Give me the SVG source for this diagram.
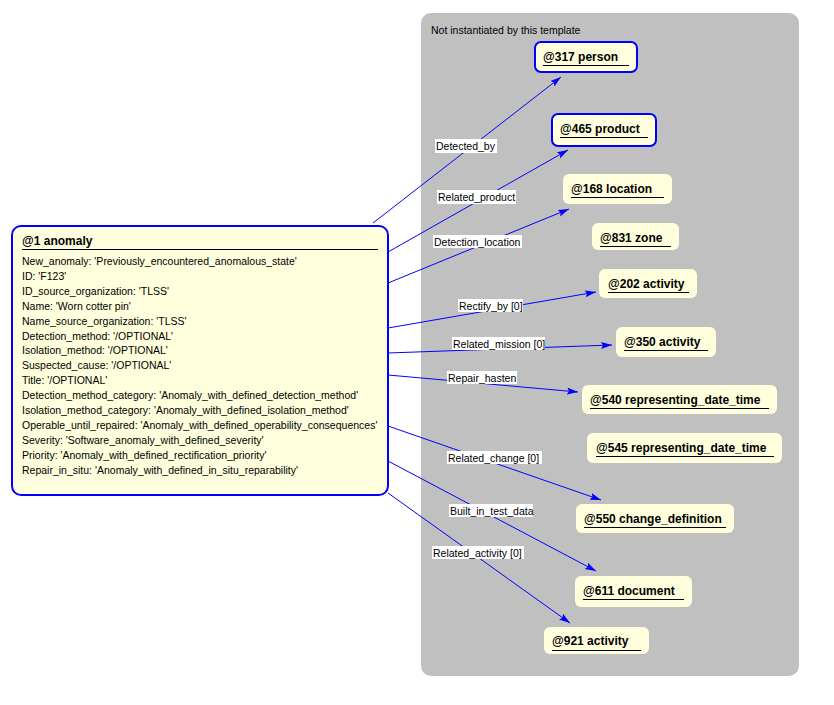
<svg xmlns="http://www.w3.org/2000/svg" width="834" height="705" viewBox="0 0 834 705">
<defs>
<style>
.t{font-family:"Liberation Sans",Arial,sans-serif;font-size:10.5px;fill:#000}
.b{font-family:"Liberation Sans",Arial,sans-serif;font-size:12px;font-weight:bold;fill:#000}
.n{fill:#FFFFDD;stroke:none}
.nb{fill:#FFFFDD;stroke:#0000FF;stroke-width:2}
.u{stroke:#000;stroke-width:1}
.c{stroke:#0000FF;stroke-width:1;fill:none;marker-end:url(#ah)}
.lb{fill:#fff}
</style>
<marker id="ah" markerUnits="userSpaceOnUse" markerWidth="12" markerHeight="8" refX="11" refY="3.5" orient="auto">
<path d="M0,0 L11,3.5 L0,7 L2,3.5 z" fill="#0000FF"/>
</marker>
</defs>
<rect width="834" height="705" fill="#fff"/>
<g id="panel">
<rect x="421" y="13" width="378" height="663" rx="10" fill="#C0C0C0"/>
<text class="t" x="431" y="34">Not instantiated by this template</text>
</g>
<g id="connectors">
<line class="c" x1="373" y1="223" x2="561" y2="77"/>
<line class="c" x1="388" y1="252" x2="568" y2="150"/>
<line class="c" x1="388" y1="283" x2="569" y2="209"/>
<line class="c" x1="388" y1="328" x2="596" y2="292"/>
<line class="c" x1="388" y1="353" x2="612" y2="345"/>
<line class="c" x1="388" y1="375" x2="578" y2="392"/>
<line class="c" x1="388" y1="426" x2="601" y2="500"/>
<line class="c" x1="388" y1="461" x2="596" y2="571"/>
<line class="c" x1="388" y1="493" x2="570" y2="623"/>
<rect class="lb" x="435" y="139" width="62" height="14"/><text class="t" x="436" y="150">Detected_by</text>
<rect class="lb" x="437" y="190" width="79" height="14"/><text class="t" x="438" y="201">Related_product</text>
<rect class="lb" x="433" y="235" width="89" height="13"/><text class="t" x="434" y="246">Detection_location</text>
<rect class="lb" x="458" y="299" width="65" height="13"/><text class="t" x="459" y="310">Rectify_by [0]</text>
<rect class="lb" x="452" y="337" width="93" height="13"/><text class="t" x="453" y="348">Related_mission [0]</text>
<rect class="lb" x="447" y="371" width="70" height="13"/><text class="t" x="448" y="382">Repair_hasten</text>
<rect class="lb" x="447" y="451" width="95" height="13"/><text class="t" x="448" y="462">Related_change [0]</text>
<rect class="lb" x="449" y="504" width="84" height="13"/><text class="t" x="450" y="515">Built_in_test_data</text>
<rect class="lb" x="432" y="546" width="92" height="13"/><text class="t" x="433" y="557">Related_activity [0]</text>
</g>
<g id="n1">
<rect class="nb" x="12" y="226" width="376" height="269" rx="9"/>
<text class="b" x="22" y="245">@1 anomaly</text>
<line class="u" x1="22" y1="249.5" x2="378" y2="249.5"/>
<text class="t" x="22" y="265">New_anomaly: 'Previously_encountered_anomalous_state'</text>
<text class="t" x="22" y="279.9">ID: 'F123'</text>
<text class="t" x="22" y="294.8">ID_source_organization: 'TLSS'</text>
<text class="t" x="22" y="309.7">Name: 'Worn cotter pin'</text>
<text class="t" x="22" y="324.6">Name_source_organization: 'TLSS'</text>
<text class="t" x="22" y="339.5">Detection_method: '/OPTIONAL'</text>
<text class="t" x="22" y="354.4">Isolation_method: '/OPTIONAL'</text>
<text class="t" x="22" y="369.3">Suspected_cause: '/OPTIONAL'</text>
<text class="t" x="22" y="384.2">Title: '/OPTIONAL'</text>
<text class="t" x="22" y="399.1">Detection_method_category: 'Anomaly_with_defined_detection_method'</text>
<text class="t" x="22" y="414">Isolation_method_category: 'Anomaly_with_defined_isolation_method'</text>
<text class="t" x="22" y="428.9">Operable_until_repaired: 'Anomaly_with_defined_operability_consequences'</text>
<text class="t" x="22" y="443.8">Severity: 'Software_anomaly_with_defined_severity'</text>
<text class="t" x="22" y="458.7">Priority: 'Anomaly_with_defined_rectification_priority'</text>
<text class="t" x="22" y="473.6">Repair_in_situ: 'Anomaly_with_defined_in_situ_reparability'</text>
</g>
<g id="n317">
<rect class="nb" x="535" y="42" width="102" height="30" rx="6"/>
<text class="b" x="543" y="61">@317 person</text>
<line class="u" x1="543" y1="65.5" x2="629" y2="65.5"/>
</g>
<g id="n465">
<rect class="nb" x="552" y="114" width="104" height="32" rx="6"/>
<text class="b" x="560" y="133">@465 product</text>
<line class="u" x1="560" y1="137.5" x2="648" y2="137.5"/>
</g>
<g id="n168">
<rect class="n" x="563" y="174" width="109" height="30" rx="6"/>
<text class="b" x="571" y="193">@168 location</text>
<line class="u" x1="571" y1="197.5" x2="664" y2="197.5"/>
</g>
<g id="n831">
<rect class="n" x="592" y="223" width="87" height="27" rx="6"/>
<text class="b" x="600" y="242">@831 zone</text>
<line class="u" x1="600" y1="246.5" x2="671" y2="246.5"/>
</g>
<g id="n202">
<rect class="n" x="599" y="269" width="98" height="29" rx="6"/>
<text class="b" x="608" y="288">@202 activity</text>
<line class="u" x1="608" y1="292.5" x2="689" y2="292.5"/>
</g>
<g id="n350">
<rect class="n" x="616" y="327" width="100" height="30" rx="6"/>
<text class="b" x="624" y="346">@350 activity</text>
<line class="u" x1="624" y1="350.5" x2="708" y2="350.5"/>
</g>
<g id="n540">
<rect class="n" x="582" y="385" width="195" height="29" rx="6"/>
<text class="b" x="590" y="404">@540 representing_date_time</text>
<line class="u" x1="590" y1="408.5" x2="769" y2="408.5"/>
</g>
<g id="n545">
<rect class="n" x="587" y="433" width="195" height="30" rx="6"/>
<text class="b" x="596" y="452">@545 representing_date_time</text>
<line class="u" x1="596" y1="456.5" x2="774" y2="456.5"/>
</g>
<g id="n550">
<rect class="n" x="576" y="504" width="158" height="29" rx="6"/>
<text class="b" x="584" y="523">@550 change_definition</text>
<line class="u" x1="584" y1="527.5" x2="726" y2="527.5"/>
</g>
<g id="n611">
<rect class="n" x="575" y="576" width="117" height="31" rx="6"/>
<text class="b" x="583" y="595">@611 document</text>
<line class="u" x1="583" y1="599.5" x2="684" y2="599.5"/>
</g>
<g id="n921">
<rect class="n" x="544" y="627" width="105" height="27" rx="6"/>
<text class="b" x="552" y="645">@921 activity</text>
<line class="u" x1="552" y1="650.5" x2="641" y2="650.5"/>
</g>
</svg>
